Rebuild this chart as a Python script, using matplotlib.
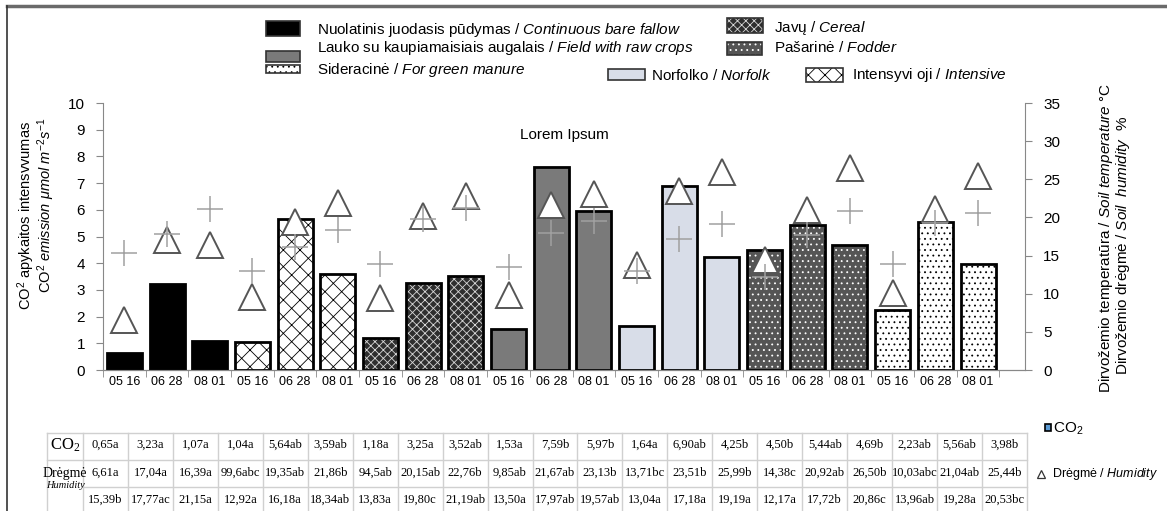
import matplotlib
matplotlib.use('Agg')
import matplotlib.pyplot as plt
from matplotlib.patches import Rectangle

plt.rcParams['font.family'] = ['Liberation Sans', 'DejaVu Sans']
plt.rcParams['mathtext.fontset'] = 'custom'
plt.rcParams['mathtext.rm'] = 'Liberation Sans'
plt.rcParams['mathtext.it'] = 'Liberation Sans:italic'
plt.rcParams['hatch.linewidth'] = 0.6

# datos
fechas = ['05 16', '06 28', '08 01']
sistemas = ['Nuolatinis', 'Intensyvioji', 'Javu', 'Lauko', 'Norfolko', 'Pasarine', 'Sideracine']

co2 = [0.65, 3.23, 1.07, 1.04, 5.64, 3.59, 1.18, 3.25, 3.52, 1.53, 7.59, 5.97,
       1.64, 6.90, 4.25, 4.50, 5.44, 4.69, 2.23, 5.56, 3.98]
dregme = [6.61, 17.04, 16.39, 9.6, 19.35, 21.86, 9.45, 20.15, 22.76, 9.85, 21.67, 23.13,
          13.71, 23.51, 25.99, 14.38, 20.92, 26.50, 10.03, 21.04, 25.44]
temperatura = [15.39, 17.77, 21.15, 12.92, 16.18, 18.34, 13.83, 19.80, 21.19, 13.50, 17.97,
               19.57, 13.04, 17.18, 19.19, 12.17, 17.72, 20.86, 13.96, 19.28, 20.53]

co2_txt = ['0,65a', '3,23a', '1,07a', '1,04a', '5,64ab', '3,59ab', '1,18a', '3,25a', '3,52ab',
           '1,53a', '7,59b', '5,97b', '1,64a', '6,90ab', '4,25b', '4,50b', '5,44ab', '4,69b',
           '2,23ab', '5,56ab', '3,98b']
dregme_txt = ['6,61a', '17,04a', '16,39a', '99,6abc', '19,35ab', '21,86b', '94,5ab', '20,15ab',
              '22,76b', '9,85ab', '21,67ab', '23,13b', '13,71bc', '23,51b', '25,99b', '14,38c',
              '20,92ab', '26,50b', '10,03abc', '21,04ab', '25,44b']
temp_txt = ['15,39b', '17,77ac', '21,15a', '12,92a', '16,18a', '18,34ab', '13,83a', '19,80c',
            '21,19ab', '13,50a', '17,97ab', '19,57ab', '13,04a', '17,18a', '19,19a', '12,17a',
            '17,72b', '20,86c', '13,96ab', '19,28a', '20,53bc']

# estilo de cada sistema: fondo, trama, color de trama
estilos = {
    'Nuolatinis': ('black', None, 'black'),
    'Intensyvioji': ('white', 'xx', 'black'),
    'Javu': ('#2e2e2e', 'xxxx', '#d8d8d8'),
    'Lauko': ('#7a7a7a', None, '#7a7a7a'),
    'Norfolko': ('#d8dde8', None, '#d8dde8'),
    'Pasarine': ('#555555', '...', 'white'),
    'Sideracine': ('white', '...', 'black'),
}

fig = plt.figure(figsize=(11.67, 5.11), dpi=100)
ax = fig.add_axes([103 / 1167, 1 - 370 / 511, 922 / 1167, 267 / 511])
ax2 = ax.twinx()

ancho = 0.82
for g, s in enumerate(sistemas):
    xs = [3 * g + i for i in range(3)]
    vals = co2[3 * g:3 * g + 3]
    fc, h, hc = estilos[s]
    ax.bar(xs, vals, width=ancho, color=fc, hatch=h, edgecolor=hc, linewidth=0, zorder=2)
    ax.bar(xs, vals, width=ancho, fill=False, edgecolor='black', linewidth=2, zorder=3)

x_all = list(range(len(co2)))
ax2.plot(x_all, dregme, linestyle='none', marker='^', markersize=19,
         markerfacecolor='white', markeredgecolor='#555555', markeredgewidth=1.4, zorder=4)
ax2.plot(x_all, temperatura, linestyle='none', marker='+', markersize=19,
         color='#a0a0a0', markeredgewidth=1.1, zorder=5)

ax.set_xlim(-0.5, 21.1)
ax.set_ylim(0, 10)
ax2.set_ylim(0, 35)
ax.set_yticks(range(0, 11))
ax2.set_yticks(range(0, 36, 5))
ax.set_xticks(x_all)
ax.set_xticklabels(fechas * len(sistemas), fontsize=9)
ax.set_xticks([i + 0.5 for i in range(-1, 21)], minor=True)
ax.tick_params(axis='x', which='major', length=0, pad=4)
ax.tick_params(axis='x', which='minor', length=5, color='#888888')
ax.tick_params(axis='y', labelsize=11, length=5, color='#888888', pad=8)
ax2.tick_params(axis='y', labelsize=11, length=5, color='#888888', pad=8)

for a in (ax, ax2):
    a.spines['top'].set_visible(False)
    for sp in ['left', 'right', 'bottom']:
        a.spines[sp].set_color('#888888')
ax2.spines['left'].set_visible(False)
ax.spines['right'].set_visible(False)

ax.text(0.5, 0.88, 'Lorem Ipsum', transform=ax.transAxes, ha='center', va='center', fontsize=11)

# capa superpuesta en pixeles para leyenda, tabla y etiquetas
ov = fig.add_axes([0, 0, 1, 1])
ov.set_xlim(0, 1167)
ov.set_ylim(511, 0)
ov.axis('off')

ov.plot([7, 1167], [6, 6], color='#6a6a6a', lw=2.5)
ov.plot([7, 7], [6, 511], color='#333333', lw=1.2)


def swatch(x, y, w, h, s):
    fc, ht, hc = estilos[s]
    ov.add_patch(Rectangle((x, y), w, h, facecolor=fc, hatch=ht, edgecolor=hc, lw=0))
    ov.add_patch(Rectangle((x, y), w, h, fill=False, edgecolor='#333333', lw=1.2))


fs_leg = 11
swatch(266, 21, 34, 15, 'Nuolatinis')
ov.text(317, 30, r'Nuolatinis juodasis pūdymas / $\mathit{Continuous\ bare\ fallow}$', fontsize=fs_leg, va='center')
swatch(266, 51, 34, 11, 'Lauko')
ov.text(317, 48, r'Lauko su kaupiamaisiais augalais / $\mathit{Field\ with\ raw\ crops}$', fontsize=fs_leg, va='center')
swatch(266, 65, 34, 8, 'Sideracine')
ov.text(317, 70, r'Sideracinė / $\mathit{For\ green\ manure}$', fontsize=fs_leg, va='center')
swatch(727, 18, 36, 15, 'Javu')
ov.text(774, 28, r'Javų / $\mathit{Cereal}$', fontsize=fs_leg, va='center')
swatch(727, 42, 35, 13, 'Pasarine')
ov.text(774, 47, r'Pašarinė / $\mathit{Fodder}$', fontsize=fs_leg, va='center')
swatch(608, 69, 37, 11, 'Norfolko')
ov.text(651, 75, r'Norfolko / $\mathit{Norfolk}$', fontsize=fs_leg, va='center')
swatch(806, 68, 37, 14, 'Intensyvioji')
ov.text(852, 75, r'Intensyvi oji / $\mathit{Intensive}$', fontsize=fs_leg, va='center')

# etiquetas de ejes
ov.text(26, 215, r'CO$^2$ apykaitos intensvvumas', rotation=90, ha='center', va='center', fontsize=10.5)
ov.text(46, 205, r'CO$^2$ $\mathit{emission\ \mu mol\ m}^{-2}\mathit{s}^{-1}$', rotation=90,
        ha='center', va='center', fontsize=10.5)
ov.text(1106, 238, r'Dirvožemio temperatūra / $\mathit{Soil\ temperature}$ °C', rotation=90,
        ha='center', va='center', fontsize=11)
ov.text(1123, 245, r'Dirvožemio drėgmė / $\mathit{Soil\ \ humidity}$  %', rotation=90,
        ha='center', va='center', fontsize=11)

# tabla
x0, x1 = 47, 83
cw = (1027 - x1) / 21
lc = '#d0d0d0'
for y in [433, 460, 487]:
    xa = x0 if y != 487 else x1
    ov.plot([xa, 1027], [y, y], color=lc, lw=1)
ov.plot([x0, x0], [433, 511], color=lc, lw=1)
for i in range(22):
    ov.plot([x1 + i * cw, x1 + i * cw], [433, 511], color=lc, lw=1)

ov.text((x0 + x1) / 2, 445, r'CO$_\mathregular{2}$', family='Liberation Serif', fontsize=12, ha='center', va='center')
ov.text((x0 + x1) / 2, 473, 'Drėgmė', family='Liberation Serif', fontsize=10, ha='center', va='center')
ov.text((x0 + x1) / 2, 486, 'Humidity', family='Liberation Serif', fontsize=7.5, style='italic', ha='center', va='center')
for i in range(21):
    xc = x1 + (i + 0.5) * cw
    ov.text(xc, 445, co2_txt[i], family='Liberation Serif', fontsize=9, ha='center', va='center')
    ov.text(xc, 473, dregme_txt[i], family='Liberation Serif', fontsize=9, ha='center', va='center')
    ov.text(xc, 500, temp_txt[i], family='Liberation Serif', fontsize=9, ha='center', va='center')

# leyenda derecha
ov.add_patch(Rectangle((1045, 424), 6, 7, facecolor='#5b9bd5', edgecolor='black', lw=1.2))
ov.text(1053, 429, r'CO$_2$', fontsize=11, va='center')
ov.plot([1041], [474], marker='^', markersize=6, markerfacecolor='white', markeredgecolor='#333333', mew=0.9)
ov.text(1052, 474, r'Drėgmė / $\mathit{Humidity}$', fontsize=9, va='center')

fig.savefig('out.png', dpi=100)
